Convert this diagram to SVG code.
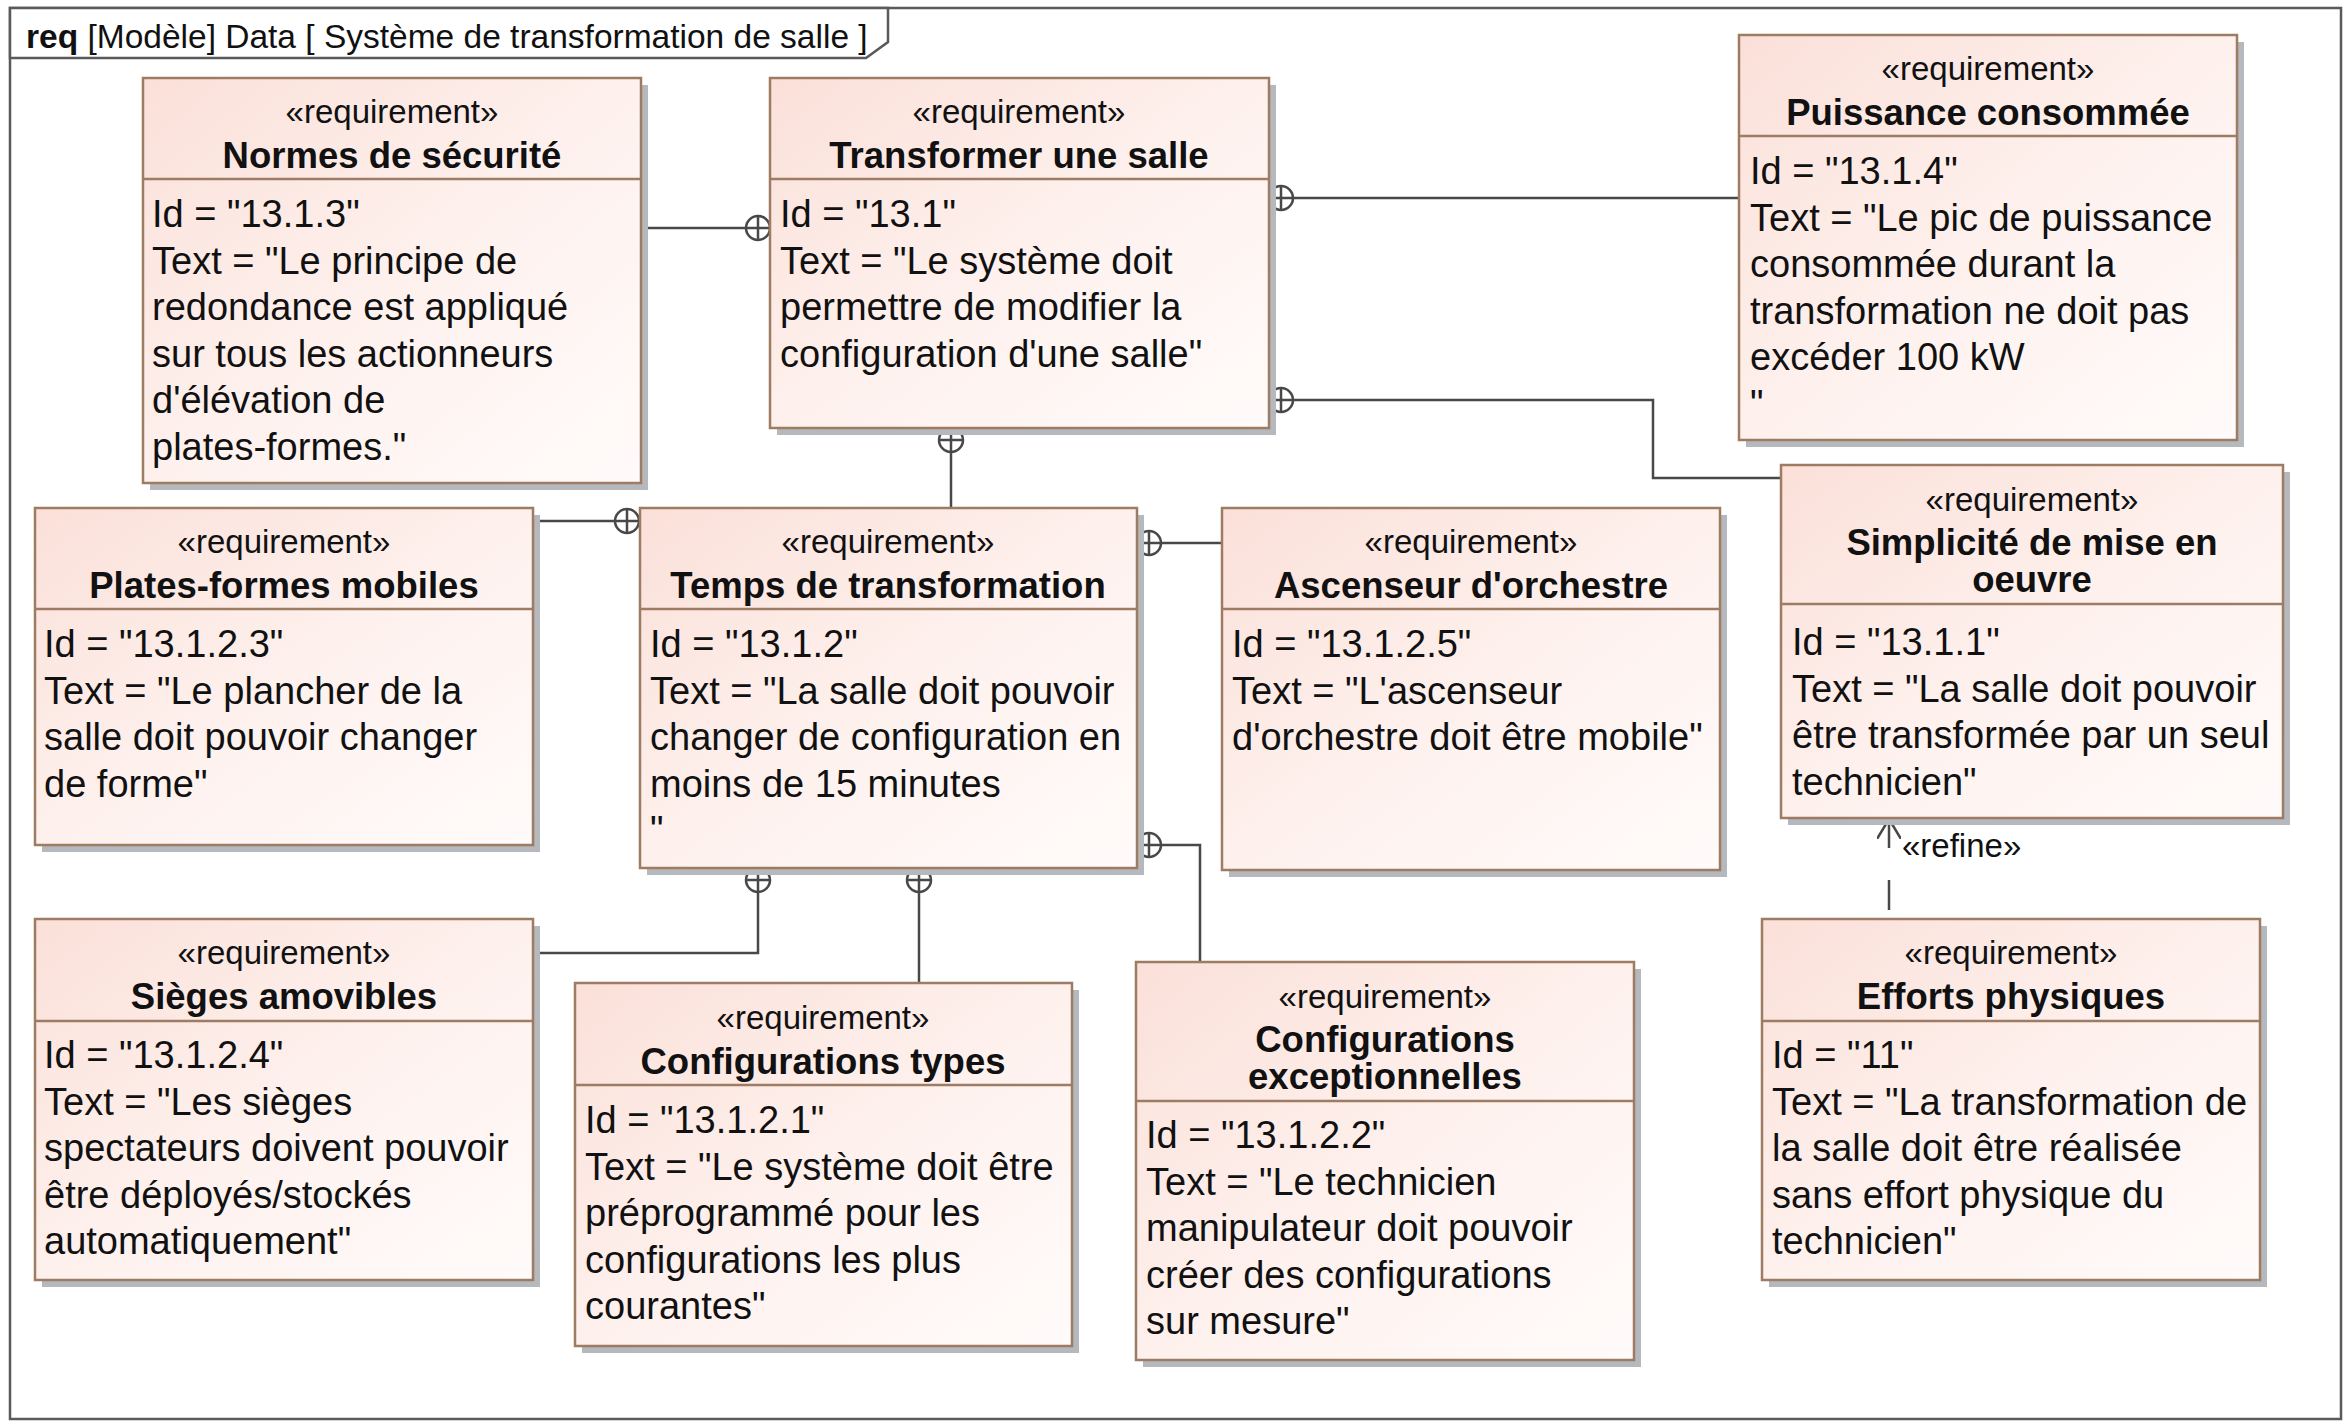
<svg xmlns="http://www.w3.org/2000/svg" xmlns:xlink="http://www.w3.org/1999/xlink" width="2352" height="1428" viewBox="0 0 2352 1428">
<style>
text{font-family:"Liberation Sans",Arial,sans-serif;fill:#111111}
.box{fill:url(#gf);stroke:#9E7B63;stroke-width:2.5}
.sh{fill:#B5B8BC}
.dv{stroke:#9E7B63;stroke-width:2.5}
.st{font-size:33px;text-anchor:middle}
.ti{font-size:36.5px;font-weight:bold;text-anchor:middle}
.bd{font-size:38px}
.cn{stroke:#484848;stroke-width:2.5;fill:none}
.frame{fill:none;stroke:#5a5a5a;stroke-width:2.5}
</style>
<defs>
<linearGradient id="gf" x1="0" y1="0" x2="1" y2="1">
<stop offset="0" stop-color="#FBE0D9"/>
<stop offset="0.55" stop-color="#FEF2EF"/>
<stop offset="1" stop-color="#FFFBFA"/>
</linearGradient>
<g id="ox"><circle r="12" fill="#ffffff" stroke="#484848" stroke-width="2.5"/><path d="M-12,0H12M0,-12V12" stroke="#484848" stroke-width="2.5"/></g>
<marker id="open" viewBox="0 0 20 24" refX="20" refY="12" markerWidth="20" markerHeight="24" markerUnits="userSpaceOnUse" orient="auto"><path d="M0,0L20,12L0,24" fill="none" stroke="#484848" stroke-width="2.5"/></marker>
</defs>
<rect x="0" y="0" width="2352" height="1428" fill="#ffffff"/>
<rect class="frame" x="10" y="8" width="2331" height="1411"/>
<g id="frame-tab">
<path d="M10,8H888V42L866,58H10Z" fill="#ffffff" stroke="#5a5a5a" stroke-width="2.5"/>
<text x="26" y="48" font-size="33.5"><tspan font-weight="bold">req</tspan> [Modèle] Data [ Système de transformation de salle ]</text>
</g>

<g id="connectors">
<path class="cn" d="M746,228H641"/>
<use xlink:href="#ox" x="758" y="228"/>
<path class="cn" d="M1293,198H1739"/>
<use xlink:href="#ox" x="1281" y="198"/>
<path class="cn" d="M1293,400H1653V478H1781"/>
<use xlink:href="#ox" x="1281" y="400"/>
<path class="cn" d="M951,452V508"/>
<use xlink:href="#ox" x="951" y="440"/>
<path class="cn" d="M615,521H533"/>
<use xlink:href="#ox" x="627" y="521"/>
<path class="cn" d="M1161,543H1222"/>
<use xlink:href="#ox" x="1149" y="543"/>
<path class="cn" d="M1161,845H1200V962"/>
<use xlink:href="#ox" x="1149" y="845"/>
<path class="cn" d="M758,892V953H533"/>
<use xlink:href="#ox" x="758" y="880"/>
<path class="cn" d="M919,892V983"/>
<use xlink:href="#ox" x="919" y="880"/>
<path class="cn" d="M1889,919V819" stroke-dasharray="0 9 30 32 40" marker-end="url(#open)"/>
<text x="1902" y="857" font-size="33">«refine»</text>
</g>

<g id="n-normes">
<rect class="sh" x="150" y="85" width="498" height="405"/>
<rect class="box" x="143" y="78" width="498" height="405"/>
<line class="dv" x1="143" y1="179" x2="641" y2="179"/>
<text class="st" x="392" y="123">«requirement»</text>
<text class="ti" x="392" y="168">Normes de sécurité</text>
<text class="bd" x="152" y="227">Id = "13.1.3"</text>
<text class="bd" x="152" y="273.5">Text = "Le principe de</text>
<text class="bd" x="152" y="320">redondance est appliqué</text>
<text class="bd" x="152" y="366.5">sur tous les actionneurs</text>
<text class="bd" x="152" y="413">d'élévation de</text>
<text class="bd" x="152" y="459.5">plates-formes."</text>
</g>

<g id="n-transformer">
<rect class="sh" x="777" y="85" width="499" height="350"/>
<rect class="box" x="770" y="78" width="499" height="350"/>
<line class="dv" x1="770" y1="179" x2="1269" y2="179"/>
<text class="st" x="1019" y="123">«requirement»</text>
<text class="ti" x="1019" y="168">Transformer une salle</text>
<text class="bd" x="780" y="227">Id = "13.1"</text>
<text class="bd" x="780" y="273.5">Text = "Le système doit</text>
<text class="bd" x="780" y="320">permettre de modifier la</text>
<text class="bd" x="780" y="366.5">configuration d'une salle"</text>
</g>

<g id="n-puissance">
<rect class="sh" x="1746" y="42" width="498" height="405"/>
<rect class="box" x="1739" y="35" width="498" height="405"/>
<line class="dv" x1="1739" y1="136" x2="2237" y2="136"/>
<text class="st" x="1988" y="80">«requirement»</text>
<text class="ti" x="1988" y="125">Puissance consommée</text>
<text class="bd" x="1750" y="184">Id = "13.1.4"</text>
<text class="bd" x="1750" y="230.5">Text = "Le pic de puissance</text>
<text class="bd" x="1750" y="277">consommée durant la</text>
<text class="bd" x="1750" y="323.5">transformation ne doit pas</text>
<text class="bd" x="1750" y="370">excéder 100 kW</text>
<text class="bd" x="1750" y="416.5">"</text>
</g>

<g id="n-plates">
<rect class="sh" x="42" y="515" width="498" height="337"/>
<rect class="box" x="35" y="508" width="498" height="337"/>
<line class="dv" x1="35" y1="609" x2="533" y2="609"/>
<text class="st" x="284" y="553">«requirement»</text>
<text class="ti" x="284" y="598">Plates-formes mobiles</text>
<text class="bd" x="44" y="657">Id = "13.1.2.3"</text>
<text class="bd" x="44" y="703.5">Text = "Le plancher de la</text>
<text class="bd" x="44" y="750">salle doit pouvoir changer</text>
<text class="bd" x="44" y="796.5">de forme"</text>
</g>

<g id="n-temps">
<rect class="sh" x="647" y="515" width="497" height="360"/>
<rect class="box" x="640" y="508" width="497" height="360"/>
<line class="dv" x1="640" y1="609" x2="1137" y2="609"/>
<text class="st" x="888" y="553">«requirement»</text>
<text class="ti" x="888" y="598">Temps de transformation</text>
<text class="bd" x="650" y="657">Id = "13.1.2"</text>
<text class="bd" x="650" y="703.5">Text = "La salle doit pouvoir</text>
<text class="bd" x="650" y="750">changer de configuration en</text>
<text class="bd" x="650" y="796.5">moins de 15 minutes</text>
<text class="bd" x="650" y="843">"</text>
</g>

<g id="n-ascenseur">
<rect class="sh" x="1229" y="515" width="498" height="362"/>
<rect class="box" x="1222" y="508" width="498" height="362"/>
<line class="dv" x1="1222" y1="609" x2="1720" y2="609"/>
<text class="st" x="1471" y="553">«requirement»</text>
<text class="ti" x="1471" y="598">Ascenseur d'orchestre</text>
<text class="bd" x="1232" y="657">Id = "13.1.2.5"</text>
<text class="bd" x="1232" y="703.5">Text = "L'ascenseur</text>
<text class="bd" x="1232" y="750">d'orchestre doit être mobile"</text>
</g>

<g id="n-simplicite">
<rect class="sh" x="1788" y="472" width="502" height="353"/>
<rect class="box" x="1781" y="465" width="502" height="353"/>
<line class="dv" x1="1781" y1="604" x2="2283" y2="604"/>
<text class="st" x="2032" y="511">«requirement»</text>
<text class="ti" x="2032" y="555">Simplicité de mise en</text>
<text class="ti" x="2032" y="592">oeuvre</text>
<text class="bd" x="1792" y="655">Id = "13.1.1"</text>
<text class="bd" x="1792" y="701.5">Text = "La salle doit pouvoir</text>
<text class="bd" x="1792" y="748">être transformée par un seul</text>
<text class="bd" x="1792" y="794.5">technicien"</text>
</g>

<g id="n-sieges">
<rect class="sh" x="42" y="926" width="498" height="361"/>
<rect class="box" x="35" y="919" width="498" height="361"/>
<line class="dv" x1="35" y1="1021" x2="533" y2="1021"/>
<text class="st" x="284" y="964">«requirement»</text>
<text class="ti" x="284" y="1009">Sièges amovibles</text>
<text class="bd" x="44" y="1068">Id = "13.1.2.4"</text>
<text class="bd" x="44" y="1114.5">Text = "Les sièges</text>
<text class="bd" x="44" y="1161">spectateurs doivent pouvoir</text>
<text class="bd" x="44" y="1207.5">être déployés/stockés</text>
<text class="bd" x="44" y="1254">automatiquement"</text>
</g>

<g id="n-configtypes">
<rect class="sh" x="582" y="990" width="497" height="363"/>
<rect class="box" x="575" y="983" width="497" height="363"/>
<line class="dv" x1="575" y1="1085" x2="1072" y2="1085"/>
<text class="st" x="823" y="1029">«requirement»</text>
<text class="ti" x="823" y="1074">Configurations types</text>
<text class="bd" x="585" y="1133">Id = "13.1.2.1"</text>
<text class="bd" x="585" y="1179.5">Text = "Le système doit être</text>
<text class="bd" x="585" y="1226">préprogrammé pour les</text>
<text class="bd" x="585" y="1272.5">configurations les plus</text>
<text class="bd" x="585" y="1319">courantes"</text>
</g>

<g id="n-configexc">
<rect class="sh" x="1143" y="969" width="498" height="398"/>
<rect class="box" x="1136" y="962" width="498" height="398"/>
<line class="dv" x1="1136" y1="1101" x2="1634" y2="1101"/>
<text class="st" x="1385" y="1008">«requirement»</text>
<text class="ti" x="1385" y="1052">Configurations</text>
<text class="ti" x="1385" y="1089">exceptionnelles</text>
<text class="bd" x="1146" y="1148">Id = "13.1.2.2"</text>
<text class="bd" x="1146" y="1194.5">Text = "Le technicien</text>
<text class="bd" x="1146" y="1241">manipulateur doit pouvoir</text>
<text class="bd" x="1146" y="1287.5">créer des configurations</text>
<text class="bd" x="1146" y="1334">sur mesure"</text>
</g>

<g id="n-efforts">
<rect class="sh" x="1769" y="926" width="498" height="361"/>
<rect class="box" x="1762" y="919" width="498" height="361"/>
<line class="dv" x1="1762" y1="1021" x2="2260" y2="1021"/>
<text class="st" x="2011" y="964">«requirement»</text>
<text class="ti" x="2011" y="1009">Efforts physiques</text>
<text class="bd" x="1772" y="1068">Id = "11"</text>
<text class="bd" x="1772" y="1114.5">Text = "La transformation de</text>
<text class="bd" x="1772" y="1161">la salle doit être réalisée</text>
<text class="bd" x="1772" y="1207.5">sans effort physique du</text>
<text class="bd" x="1772" y="1254">technicien"</text>
</g>
</svg>
